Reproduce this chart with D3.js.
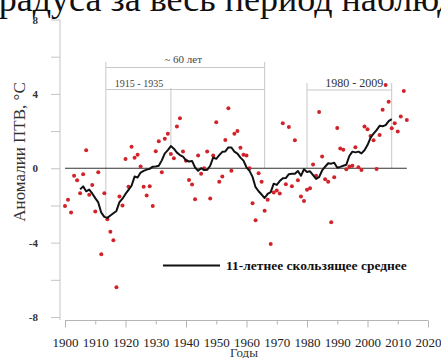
<!DOCTYPE html>
<html>
<head>
<meta charset="utf-8">
<script src="https://cdn.jsdelivr.net/npm/d3@7/dist/d3.min.js"></script>
<style>
  body { margin: 0; background: #fff; overflow: hidden; }
  svg, svg text { font-family: "Liberation Serif", "Times New Roman", serif !important; }
</style>
</head>
<body>
<div id="chart"></div>
<script>
/**
 * CONSTANTS AND DATA
 * */
const width = 441, height = 358;
const serif = "'Liberation Serif', 'Times New Roman', serif";

// years of observation
const years = d3.range(1900, 2014);

// yearly anomalies, °C
const anomalies = [
  -2.03, -1.70, -2.38, -0.41, -0.65, -1.34, -0.32, 0.97, -1.43, -0.90,  // 1900-1909
  -2.33, -0.22, -4.62, -1.34, -2.74, -3.42, -3.87, -6.40, -1.52, -2.01,  // 1910-1919
   0.50, -1.00, 1.16, 0.56, 0.72, 0.09, -0.99, -1.47, -0.97, -2.03,      // 1920-1929
   0.91, 1.45, -0.22, 1.59, 1.85, 0.77, 0.54, 2.24, 2.69, 0.90,          // 1930-1939
   0.40, -0.63, -0.88, -1.67, 0.68, -0.30, 0.00, 0.90, -1.63, 0.68,      // 1940-1949
   2.47, -0.72, -0.45, 1.52, 3.23, -0.13, 1.85, 2.01, 1.10, 0.73,        // 1950-1959
   0.68, 0.00, -1.88, -2.80, -0.27, -0.72, -2.28, -1.70, -4.07, -1.31,   // 1960-1969
  -1.20, -1.36, 2.42, -0.86, 2.22, -0.97, 1.51, -0.65, -1.52, -1.76,     // 1970-1979
  -1.15, -1.08, 0.20, -0.41, 3.03, 0.63, -0.59, -0.73, -2.90, -0.48,     // 1980-1989
   2.17, 1.06, 0.99, -0.05, 0.09, 0.13, 1.13, 0.05, -0.09, 2.24,         // 1990-1999
   2.10, 1.74, 1.50, -0.04, 1.79, 3.14, 4.48, 3.58, 2.15, 2.42,          // 2000-2009
   1.97, 2.78, 4.16, 2.60                                                // 2010-2013
];

const window11 = 11;

const yTickValues = [-8, -6, -4, -2, 0, 2, 4, 6, 8];
const yTickLabels = [-8, -4, 0, 4, 8];
const xTickValues = d3.range(1900, 2021, 10);

// annotated periods
const periodLabels = ["~ 60 лет", "1915 - 1935", "1980 - 2009"];
const periodStarts = [1913.5, 1913.5, 1980];
const periodEnds = [1966, 1935, 2008];

const titleText = "градуса за весь период наблюдений";
const yTitle = "Аномалии ПТВ, °С";
const xTitle = "Годы";
const legendText = "11-летнее скользящее среднее";

/**
 * SCALES
 * */
const x = d3.scaleLinear().domain([1900, 2020]).range([65, 428]);
const y = d3.scaleLinear().domain([-8, 8]).range([317, 19.5]);

const data = years.map((yr, i) => ({ year: yr, value: anomalies[i] }));

// centred 11-year running mean
const half = (window11 - 1) / 2;
const running = [];
for (let i = half; i < data.length - half; i++) {
  running.push({
    year: data[i].year,
    value: d3.mean(data.slice(i - half, i + half + 1), d => d.value)
  });
}
const runAt = yr => running.find(d => d.year === Math.round(yr)).value;

const svg = d3.select("#chart")
  .append("svg")
  .attr("width", width)
  .attr("height", height)
  .style("font-family", serif);

// clipped title from the page above
svg.append("text")
  .attr("x", -16)
  .attr("y", 11)
  .attr("font-size", 36)
  .attr("fill", "#111")
  .style("font-family", serif)
  .text(titleText);

/**
 * AXES
 * */
const yAxis = d3.axisLeft(y)
  .tickValues(yTickValues)
  .tickSize(9)
  .tickPadding(13)
  .tickFormat(d => yTickLabels.includes(d) ? d : "");

const gy = svg.append("g")
  .attr("transform", "translate(60,0)")
  .call(yAxis);
gy.select(".domain").attr("stroke", "#c4c4c4").attr("d", `M0,${y(8)}V${y(-8) + 3}`);
gy.selectAll(".tick line").attr("stroke", "#c4c4c4");
gy.selectAll(".tick text")
  .style("font-family", serif)
  .attr("font-size", 11)
  .attr("font-weight", "bold")
  .attr("fill", "#333");

const xAxis = d3.axisBottom(x)
  .tickValues(xTickValues)
  .tickSize(7)
  .tickPadding(10)
  .tickFormat(d3.format("d"));

const gx = svg.append("g")
  .attr("transform", "translate(0,320.5)")
  .call(xAxis);
gx.select(".domain").attr("stroke", "#b4b4b4").attr("d", `M${x(1900)},0H${x(2020)}`);
gx.selectAll(".tick line")
  .attr("stroke", "#b4b4b4")
  .attr("y2", d => (d - 1900) % 20 === 0 ? 7 : 4);
gx.selectAll(".tick text")
  .style("font-family", serif)
  .attr("font-size", 13)
  .attr("fill", "#222");

svg.append("text")
  .attr("x", 244)
  .attr("y", 357)
  .attr("text-anchor", "middle")
  .attr("font-size", 13)
  .attr("fill", "#333")
  .style("font-family", serif)
  .text(xTitle);

svg.append("text")
  .attr("transform", "translate(25,152) rotate(-90)")
  .attr("text-anchor", "middle")
  .attr("font-size", 17)
  .attr("fill", "#333")
  .style("font-family", serif)
  .text(yTitle);

/**
 * PERIOD ANNOTATIONS
 * */
const ann = svg.append("g")
  .attr("stroke", "#c8c8c8")
  .attr("stroke-width", 1)
  .attr("fill", "none");

// ~60 years
ann.append("path").attr("d",
  `M${x(periodStarts[0])},62V${y(runAt(1914))}` +
  `M${x(periodEnds[0])},62V${y(0)}` +
  `M${x(periodStarts[0])},67.5H${x(periodEnds[0])}` +
  `M${x(periodStarts[1])},89.5H${x(periodEnds[0])}` +
  `M${x(periodEnds[1])},88V${y(runAt(periodEnds[1]))}`);
// 1980 - 2009
ann.append("path").attr("d",
  `M${x(periodStarts[2])},83V${y(0)}` +
  `M${x(periodEnds[2])},83V${y(0)}` +
  `M${x(periodStarts[2])},90H${x(periodEnds[2])}`);

svg.append("text")
  .attr("x", (x(periodStarts[0]) + x(periodEnds[0])) / 2 - 2)
  .attr("y", 63)
  .attr("text-anchor", "middle")
  .attr("font-size", 11)
  .attr("fill", "#444")
  .style("font-family", serif)
  .text(periodLabels[0]);

svg.append("text")
  .attr("x", x(periodStarts[1]) + 9)
  .attr("y", 87)
  .attr("font-size", 10)
  .attr("fill", "#444")
  .style("font-family", serif)
  .text(periodLabels[1]);

svg.append("text")
  .attr("x", (x(periodStarts[2]) + x(periodEnds[2])) / 2 + 5)
  .attr("y", 87)
  .attr("text-anchor", "middle")
  .attr("font-size", 12)
  .attr("fill", "#333")
  .style("font-family", serif)
  .text(periodLabels[2]);

/**
 * MARKS
 * */
// zero line
svg.append("line")
  .attr("x1", x(1900)).attr("x2", x(2013))
  .attr("y1", y(0)).attr("y2", y(0))
  .attr("stroke", "#333")
  .attr("stroke-width", 1);

svg.append("g")
  .selectAll("circle")
  .data(data)
  .join("circle")
  .attr("cx", d => x(d.year))
  .attr("cy", d => y(d.value))
  .attr("r", 2)
  .attr("fill", "#d2232a");

const line = d3.line()
  .x(d => x(d.year))
  .y(d => y(d.value));

svg.append("path")
  .datum(running)
  .attr("d", line)
  .attr("fill", "none")
  .attr("stroke", "#111")
  .attr("stroke-width", 2)
  .attr("stroke-linejoin", "round");

/**
 * LEGEND
 * */
svg.append("line")
  .attr("x1", 163).attr("x2", 220)
  .attr("y1", 265.5).attr("y2", 265.5)
  .attr("stroke", "#111")
  .attr("stroke-width", 2.2);

svg.append("text")
  .attr("x", 226)
  .attr("y", 270)
  .attr("font-size", 13.5)
  .attr("font-weight", "bold")
  .attr("fill", "#111")
  .style("font-family", serif)
  .text(legendText);
</script>
</body>
</html>
